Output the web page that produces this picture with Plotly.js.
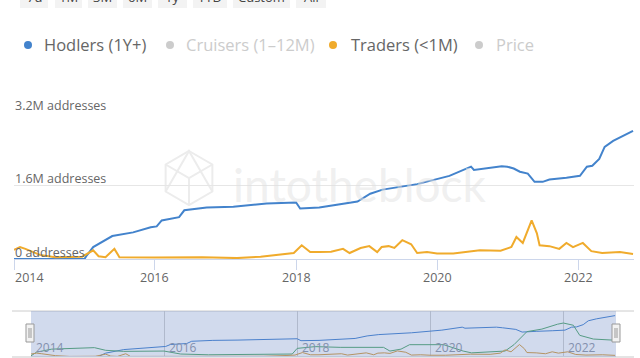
<!DOCTYPE html>
<html>
<head>
<meta charset="utf-8">
<script src="https://cdn.plot.ly/plotly-3.0.1.min.js"></script>
<style>html,body{margin:0;padding:0;background:#fff;}#chart{width:640px;height:358px;}</style>
</head>
<body>
<div id="chart"></div>
<script>
// ---- data (values in millions of addresses) ----
const hodlerDates = ['2014-01-01','2015-01-01','2015-01-10','2015-02-15','2015-05-25','2015-09-10','2015-12-10','2016-01-10','2016-02-05','2016-05-05','2016-06-01','2016-09-25','2017-02-10','2017-08-01','2018-01-01','2018-01-22','2018-05-01','2018-11-15','2019-01-20','2019-03-25','2019-09-20','2020-03-05','2020-06-25','2020-07-10','2020-12-01','2020-12-30','2021-02-01','2021-03-05','2021-04-15','2021-05-20','2021-07-01','2021-08-05','2021-11-01','2022-01-10','2022-02-15','2022-03-15','2022-04-20','2022-05-18','2022-07-01','2022-10-12'];
const hodlers = [0,0,0.06,0.26,0.5,0.58,0.69,0.71,0.84,0.91,1.06,1.12,1.14,1.21,1.23,1.10,1.12,1.25,1.42,1.51,1.63,1.81,2.01,1.94,2.02,2.01,1.97,1.90,1.86,1.68,1.68,1.73,1.77,1.81,2.01,2.03,2.18,2.44,2.57,2.79];

const traderDates = ['2014-01-01','2014-02-01','2014-03-01','2014-05-15','2014-08-01','2014-12-20','2015-02-15','2015-03-15','2015-04-20','2015-06-05','2015-07-01','2016-01-01','2016-09-01','2017-03-01','2017-07-01','2017-11-01','2017-12-20','2018-01-30','2018-03-15','2018-05-01','2018-07-01','2018-09-01','2018-10-05','2018-12-01','2019-01-15','2019-02-25','2019-03-20','2019-04-25','2019-05-25','2019-07-05','2019-08-20','2019-09-20','2019-11-10','2020-01-01','2020-03-25','2020-08-10','2020-11-25','2021-01-20','2021-02-15','2021-03-20','2021-04-15','2021-05-05','2021-06-01','2021-06-15','2021-08-05','2021-09-25','2021-11-01','2021-12-05','2022-01-25','2022-03-10','2022-05-05','2022-08-05','2022-10-12'];
const traders = [0.2,0.26,0.22,0.09,0.04,0.05,0.19,0.06,0.04,0.22,0.04,0.03,0.04,0.02,0.05,0.1,0.13,0.3,0.15,0.15,0.16,0.22,0.13,0.24,0.28,0.15,0.26,0.28,0.24,0.41,0.32,0.13,0.15,0.12,0.12,0.19,0.18,0.26,0.48,0.35,0.63,0.84,0.56,0.3,0.28,0.22,0.35,0.26,0.35,0.17,0.13,0.15,0.11];

const cruiserDates = ['2014-01-01','2014-02-01','2014-04-25','2014-12-15','2015-02-15','2015-05-25','2016-01-01','2016-04-01','2016-09-01','2017-12-05','2018-01-01','2018-04-10','2018-08-25','2019-04-20','2019-05-25','2019-07-25','2019-09-10','2020-03-15','2020-06-30','2020-08-15','2021-02-15','2021-04-05','2021-06-15','2021-09-05','2021-11-30','2022-01-01','2022-02-25','2022-04-01','2022-06-15','2022-10-12'];
const cruisers = [0.08,0.33,0.53,0.63,0.45,0.38,0.4,0.2,0.15,0.2,0.58,0.7,0.65,0.65,0.4,0.53,0.83,0.83,0.4,0.28,0.4,0.83,1.71,1.88,2.21,2.29,2.14,1.46,1.21,1.13];

const seriesNames = ['Hodlers (1Y+)','Cruisers (1–12M)','Traders (<1M)','Price'];
const yTickVals = [0, 1.6, 3.2];
const yTickText = ['0 addresses','1.6M addresses','3.2M addresses'];
const xTickVals = ['2014-01-01','2016-01-01','2018-01-01','2020-01-01','2022-01-01'];
const xTickText = ['2014','2016','2018','2020','2022'];
const buttons = ['7d','1M','3M','6M','1y','YTD','Custom','All'];

// ---- helpers ----
const W = 640, H = 358, ML = 14, MR = 6;
const PW = W - ML - MR;
const px = x => (x - ML) / PW;
const py = y => (H - y) / H;
const M = a => a.map(v => v * 1e6);

const BLUE = '#4383cc', ORANGE = '#f0ab2c';
const FONT = 'Open Sans';

const traces = [
  {x: hodlerDates, y: M(hodlers), mode: 'lines', line: {color: BLUE, width: 2}, name: seriesNames[0], xaxis: 'x', yaxis: 'y', hoverinfo: 'skip'},
  {x: traderDates, y: M(traders), mode: 'lines', line: {color: ORANGE, width: 2}, name: seriesNames[2], xaxis: 'x', yaxis: 'y', hoverinfo: 'skip'},
  {x: hodlerDates, y: M(hodlers), mode: 'lines', line: {color: '#3f7fd0', width: 1}, xaxis: 'x2', yaxis: 'y2', hoverinfo: 'skip'},
  {x: cruiserDates, y: M(cruisers), mode: 'lines', line: {color: '#4fa66a', width: 1}, xaxis: 'x2', yaxis: 'y2', hoverinfo: 'skip'},
  {x: traderDates, y: M(traders), mode: 'lines', line: {color: '#d69a3a', width: 1}, xaxis: 'x2', yaxis: 'y2', hoverinfo: 'skip'}
];

const shapes = [];
const annotations = [];

// range selector buttons (cut at top)
const btnX = [[20,48],[55,82],[88,117],[123,152],[158,187],[193,227],[233,290],[296,326]];
buttons.forEach((b, i) => {
  const [a, c] = btnX[i];
  shapes.push({type: 'rect', xref: 'paper', yref: 'paper', x0: px(a), x1: px(c), y0: py(8), y1: py(-12), fillcolor: '#f3f3f3', line: {width: 0}, layer: 'below'});
  annotations.push({text: b, xref: 'paper', yref: 'paper', x: px((a + c) / 2), y: py(-2.5), xanchor: 'center', yanchor: 'middle', showarrow: false, font: {family: FONT, size: 13, color: '#444'}});
});

// legend (drawn as text + dots)
const legendItems = [
  {dot: 28, tx: 42, color: BLUE, txt: seriesNames[0], tc: '#666'},
  {dot: 170, tx: 184, color: '#cccccc', txt: seriesNames[1], tc: '#cccccc'},
  {dot: 333, tx: 349, color: ORANGE, txt: seriesNames[2], tc: '#666'},
  {dot: 479, tx: 494, color: '#cccccc', txt: seriesNames[3], tc: '#cccccc'}
];
legendItems.forEach(it => {
  shapes.push({type: 'circle', xref: 'paper', yref: 'paper', x0: px(it.dot - 4), x1: px(it.dot + 4), y0: py(49), y1: py(41), fillcolor: it.color, line: {width: 0}});
  annotations.push({text: it.txt, xref: 'paper', yref: 'paper', x: px(it.tx), y: py(44.5), xanchor: 'left', yanchor: 'middle', showarrow: false, font: {family: FONT, size: 16.5, color: it.tc}});
});

// y axis labels (above gridlines, inside plot)
yTickVals.forEach((v, i) => {
  annotations.push({text: yTickText[i], xref: 'paper', yref: 'y', x: px(13), y: v * 1e6, xanchor: 'left', yanchor: 'middle', yshift: 7, showarrow: false, font: {family: FONT, size: 12.5, color: '#666'}});
});
// main x axis labels (first one kept inside the chart, as in the original)
xTickVals.forEach((d, i) => {
  annotations.push({text: xTickText[i], xref: 'x', yref: 'paper', x: d, y: py(277), xanchor: i === 0 ? 'left' : 'center', yanchor: 'middle', xshift: i === 0 ? -1 : 0, showarrow: false, font: {family: FONT, size: 12.5, color: '#666'}});
});
// navigator date labels
xTickVals.forEach((d, i) => {
  annotations.push({text: xTickText[i], xref: 'x2', yref: 'paper', x: d, y: py(347), xanchor: 'left', yanchor: 'middle', xshift: 3, showarrow: false, font: {family: FONT, size: 12, color: '#8390ad'}});
});

// watermark
const cx = 189, cy = 178, r = 27;
const hx = a => cx + r * Math.cos(a), hy = a => cy + r * Math.sin(a);
let hex = '';
for (let k = 0; k < 6; k++) {
  const ang = -Math.PI / 2 + k * Math.PI / 3;
  hex += (k === 0 ? 'M ' : ' L ') + px(hx(ang)) + ' ' + py(hy(ang));
}
hex += ' Z';
const inner = 'M ' + px(hx(-Math.PI/2 - Math.PI/3)) + ' ' + py(hy(-Math.PI/2 - Math.PI/3)) + ' L ' + px(cx) + ' ' + py(cy) + ' L ' + px(hx(-Math.PI/2 + Math.PI/3)) + ' ' + py(hy(-Math.PI/2 + Math.PI/3)) + ' M ' + px(cx) + ' ' + py(cy) + ' L ' + px(cx) + ' ' + py(cy + r) +
  ' M ' + px(hx(Math.PI/2 + Math.PI/3)) + ' ' + py(hy(Math.PI/2 + Math.PI/3)) + ' L ' + px(cx) + ' ' + py(cy - r) + ' L ' + px(hx(Math.PI/2 - Math.PI/3)) + ' ' + py(hy(Math.PI/2 - Math.PI/3));
shapes.push({type: 'path', xref: 'paper', yref: 'paper', path: hex, line: {color: '#ececec', width: 2}, layer: 'below'});
shapes.push({type: 'path', xref: 'paper', yref: 'paper', path: inner, line: {color: '#ececec', width: 2}, layer: 'below'});
annotations.push({text: 'intotheblock', xref: 'paper', yref: 'paper', x: px(231), y: py(184), xanchor: 'left', yanchor: 'middle', showarrow: false, font: {family: 'Lato', size: 46, color: 'rgba(225,225,225,0.5)'}});

// navigator frame
shapes.push({type: 'line', xref: 'paper', yref: 'paper', x0: px(12), x1: px(634), y0: py(311), y1: py(311), line: {color: '#cccccc', width: 1}});
shapes.push({type: 'rect', xref: 'paper', yref: 'paper', x0: px(12), x1: px(634), y0: py(358), y1: py(356), fillcolor: '#e4e4e4', line: {width: 0}});
shapes.push({type: 'rect', xref: 'x2 domain', yref: 'y2 domain', x0: 0, x1: 1, y0: 0, y1: 1, fillcolor: 'rgba(102,133,194,0.3)', line: {width: 0}, layer: 'above'});
// handles
[[26, 34], [612, 620]].forEach(([a, c]) => {
  shapes.push({type: 'rect', xref: 'paper', yref: 'paper', x0: px(a), x1: px(c), y0: py(342), y1: py(324), fillcolor: '#f2f2f2', line: {color: '#999999', width: 1}});
  shapes.push({type: 'line', xref: 'paper', yref: 'paper', x0: px(a + 3), x1: px(a + 3), y0: py(338), y1: py(328), line: {color: '#999999', width: 1}});
  shapes.push({type: 'line', xref: 'paper', yref: 'paper', x0: px(c - 3), x1: px(c - 3), y0: py(338), y1: py(328), line: {color: '#999999', width: 1}});
});

const layout = {
  width: W, height: H,
  margin: {l: ML, r: MR, t: 0, b: 0, pad: 0},
  paper_bgcolor: '#ffffff', plot_bgcolor: 'rgba(0,0,0,0)',
  showlegend: false,
  xaxis: {
    type: 'date', domain: [0, 1], range: ['2014-01-01', '2022-10-17'], anchor: 'y',
    tickmode: 'array', tickvals: xTickVals, showticklabels: false,
    ticks: 'outside', ticklen: 10, tickcolor: '#ccd6eb', showgrid: false,
    showline: true, linecolor: '#ccd6eb', linewidth: 1, zeroline: false, fixedrange: true
  },
  yaxis: {
    domain: [py(259), py(112)], range: [0, 3.2e6], anchor: 'x',
    tickmode: 'array', tickvals: M(yTickVals), showticklabels: false,
    ticks: '', showgrid: true, gridcolor: '#e6e6e6', zeroline: false, fixedrange: true
  },
  xaxis2: {
    type: 'date', domain: [px(31), px(616)], range: ['2014-01-01', '2022-10-17'], anchor: 'y2',
    tickmode: 'array', tickvals: xTickVals, showticklabels: false,
    ticks: '', showgrid: true, gridcolor: '#d0d0d0', showline: false, zeroline: false, fixedrange: true
  },
  yaxis2: {
    domain: [py(357), py(311)], range: [0, 3.1e6], anchor: 'x2',
    showticklabels: false, showgrid: false, zeroline: false, ticks: '', fixedrange: true
  },
  shapes: shapes,
  annotations: annotations
};

Plotly.newPlot('chart', traces, layout, {staticPlot: true, displayModeBar: false});
</script>
</body>
</html>
